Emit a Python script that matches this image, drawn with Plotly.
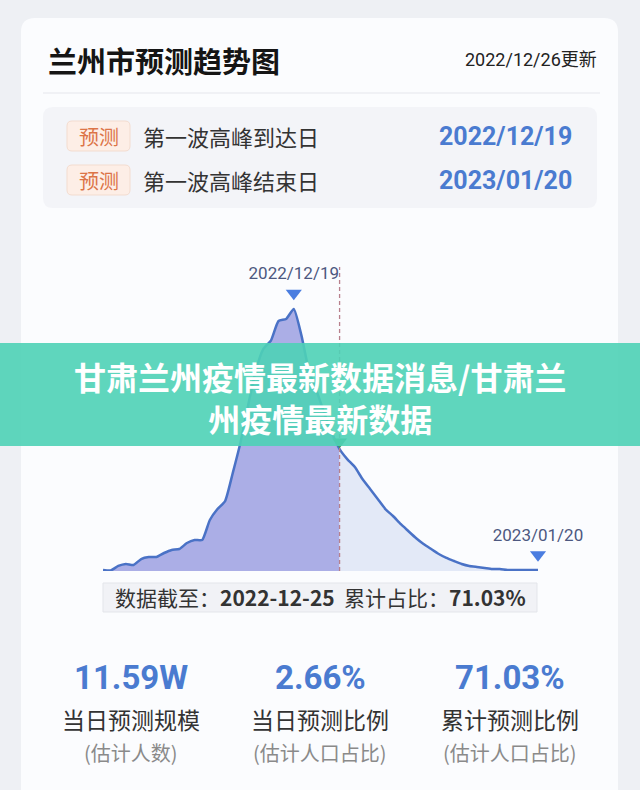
import plotly.graph_objects as go
import pandas as pd

W, H = 640, 790

# ---------------- data ----------------
start_date = "2022-11-24"
end_date = "2023-01-20"
dates = pd.date_range(start_date, end_date, freq="D")
# predicted daily infections (万人)
values = [0.10, 0.05, 0.48, 0.67, 0.57, 1.14, 1.33, 1.33, 1.71, 2.00,
          2.09, 2.66, 2.95, 2.95, 4.85, 5.89, 6.65, 9.31, 12.17, 15.68,
          19.01, 21.10, 21.90, 23.77, 23.96, 24.91, 22.40, 19.00, 17.10, 15.01,
          13.11, 11.59, 10.64, 9.88, 8.74, 7.79, 6.84, 5.89, 5.23, 4.47,
          3.80, 3.14, 2.57, 2.09, 1.62, 1.24, 0.95, 0.67, 0.48, 0.38,
          0.29, 0.19, 0.19, 0.10, 0.10, 0.10, 0.10, 0.10]
peak_date = "2022-12-19"
data_date = "2022-12-25"
end_peak_date = "2023-01-20"
cum_ratio = "71.03%"
stat_values = ["11.59W", "2.66%", "71.03%"]
stat_labels = ["当日预测规模", "当日预测比例", "累计预测比例"]
stat_subs = ["(估计人数)", "(估计人口占比)", "(估计人口占比)"]
info_labels = ["第一波高峰到达日", "第一波高峰结束日"]
info_dates = ["2022/12/19", "2023/01/20"]
title = "兰州市预测趋势图"
update_text = "2022/12/26更新"
banner_lines = ["甘肃兰州疫情最新数据消息/甘肃兰", "州疫情最新数据"]

CJK = "Noto Sans CJK SC, Noto Sans, sans-serif"
NUM = "Roboto, Noto Sans CJK SC, sans-serif"
BLUE = "#4a7bd0"


def px(x):
    return x / W


def py(y):
    return 1 - y / H


def rrect(x0, y0, x1, y1, r):
    X0, X1 = px(x0), px(x1)
    Y0, Y1 = py(y0), py(y1)  # Y0 top (bigger)
    rx, ry = r / W, r / H
    return (f"M{X0+rx},{Y0} L{X1-rx},{Y0} Q{X1},{Y0} {X1},{Y0-ry} "
            f"L{X1},{Y1+ry} Q{X1},{Y1} {X1-rx},{Y1} L{X0+rx},{Y1} "
            f"Q{X0},{Y1} {X0},{Y1+ry} L{X0},{Y0-ry} Q{X0},{Y0} {X0+rx},{Y0} Z")


ser = pd.Series(values, index=dates)
left = ser[:data_date]
right = ser[data_date:]

fig = go.Figure()
fig.add_trace(go.Scatter(x=left.index, y=left.values, mode="lines", fill="tozeroy",
                         fillcolor="#abaee6", line=dict(width=0, shape="spline", smoothing=0.5),
                         hoverinfo="skip"))
fig.add_trace(go.Scatter(x=right.index, y=right.values, mode="lines", fill="tozeroy",
                         fillcolor="#e3e9f7", line=dict(width=0, shape="spline", smoothing=0.5),
                         hoverinfo="skip"))
fig.add_trace(go.Scatter(x=ser.index, y=ser.values, mode="lines",
                         line=dict(color="#4a72c6", width=2.5, shape="spline", smoothing=0.5),
                         hoverinfo="skip"))

# vertical dashed line at data date
ymax = 28.9
fig.add_trace(go.Scatter(x=[data_date, data_date], y=[0, ymax], mode="lines",
                         line=dict(color="#b8808c", width=1.3, dash="4px,3px"), hoverinfo="skip"))

# markers
fig.add_trace(go.Scatter(x=[peak_date, end_peak_date], y=[ser[peak_date] + 1.5, ser[end_peak_date] + 1.45],
                         mode="markers+text", marker=dict(symbol="triangle-down", size=14, color="#4a7de0"),
                         text=[peak_date.replace("-", "/"), end_peak_date.replace("-", "/")],
                         textposition="top center",
                         textfont=dict(family=NUM, size=17, color="#4d5880"),
                         cliponaxis=False, hoverinfo="skip"))
fig.add_trace(go.Scatter(x=[data_date], y=[ser[data_date] + 0.7], mode="markers",
                         marker=dict(symbol="triangle-down", size=13, color="#3f9b63"),
                         cliponaxis=False, hoverinfo="skip"))

shapes = []
# page background card
shapes.append(dict(type="path", path=rrect(21, 18, 618, 830, 14), xref="paper", yref="paper",
                   fillcolor="#fbfcfe", line=dict(width=0), layer="below"))
# separator
shapes.append(dict(type="line", x0=px(43), x1=px(600), y0=py(93), y1=py(93), xref="paper", yref="paper",
                   line=dict(color="#eceef2", width=1.5), layer="below"))
# info box
shapes.append(dict(type="path", path=rrect(43, 107, 597, 208, 10), xref="paper", yref="paper",
                   fillcolor="#f3f4f8", line=dict(width=0), layer="below"))
# data box
shapes.append(dict(type="rect", x0=px(103), x1=px(537), y0=py(583), y1=py(612), xref="paper", yref="paper",
                   fillcolor="#f1f2f6", line=dict(color="#e3e5ea", width=1), layer="below"))

annotations = []


def txt(x, y, s, size, color, xanchor="center", family=CJK, bold=False):
    if bold:
        s = f"<b>{s}</b>"
    annotations.append(dict(x=px(x), y=py(y), xref="paper", yref="paper", text=s, showarrow=False,
                            xanchor=xanchor, yanchor="middle",
                            font=dict(family=family, size=size, color=color)))


txt(46, 60, title, 29, "#151515", xanchor="left", bold=True)
txt(599, 60, update_text, 18, "#222222", xanchor="right", family=NUM)

row_y = [136, 180]
for i in range(2):
    shapes.append(dict(type="path", path=rrect(67, row_y[i] - 15, 130, row_y[i] + 15, 5),
                       xref="paper", yref="paper", fillcolor="#fdeee6",
                       line=dict(color="#f3dccf", width=1), layer="below"))
    txt(98.5, row_y[i], "预测", 20, "#dc7448")
    txt(141, row_y[i], info_labels[i], 22, "#333333", xanchor="left")
    txt(574, row_y[i], info_dates[i], 25, BLUE, xanchor="right", family=NUM, bold=True)

txt(320, 597, f"数据截至：<b>{data_date}</b>  累计占比：<b>{cum_ratio}</b>", 21, "#333333")

centers = [131, 320, 510]
for i in range(3):
    txt(centers[i], 677, stat_values[i], 33, BLUE, family=NUM, bold=True)
    txt(centers[i], 719, stat_labels[i], 23, "#333333")
    txt(centers[i], 752, stat_subs[i], 20, "#8a8a8a")

# banner
shapes.append(dict(type="rect", x0=0, x1=1, y0=py(446), y1=py(343), xref="paper", yref="paper",
                   fillcolor="rgba(78,210,182,0.9)", line=dict(width=0), layer="above"))
txt(320, 397, "<br>".join(banner_lines), 32, "#ffffff", bold=True)

fig.update_layout(
    width=W, height=H, margin=dict(l=0, r=0, t=0, b=0),
    paper_bgcolor="#eef0f4", plot_bgcolor="rgba(0,0,0,0)",
    showlegend=False, shapes=shapes, annotations=annotations,
    xaxis=dict(type="date", range=[start_date, end_date], domain=[px(103), px(538)],
               visible=False, fixedrange=True),
    yaxis=dict(range=[0, ymax], domain=[py(571), py(267)], visible=False, fixedrange=True),
)

fig.write_html("out.html", config={"displayModeBar": False},
               post_script="document.body.style.margin='0';document.body.style.overflow='hidden';")
